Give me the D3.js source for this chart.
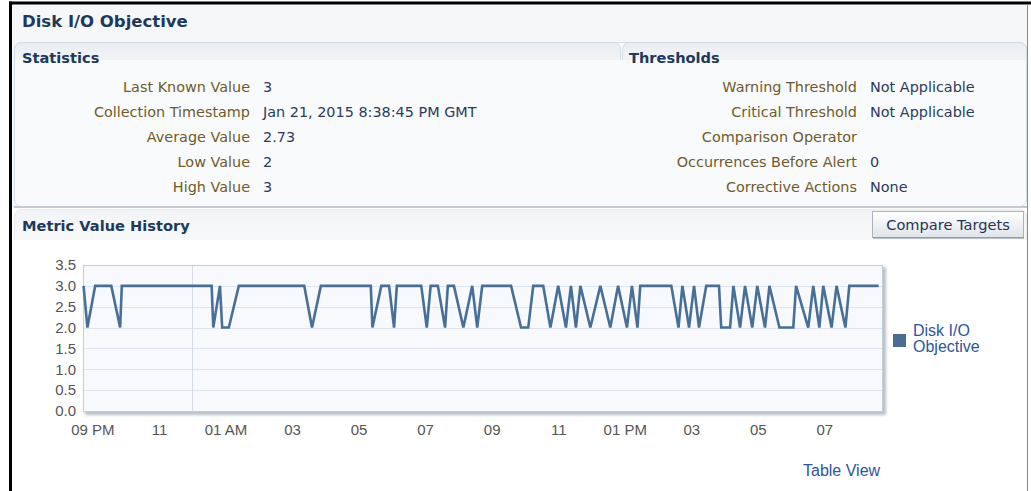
<!DOCTYPE html>
<html>
<head>
<meta charset="utf-8">
<script src="https://cdn.jsdelivr.net/npm/d3@7"></script>
<style>
  body { margin: 0; background: #fff; }
  svg { display: block; }
</style>
</head>
<body>
<script>
const W = 1031, H = 491;

// statistics panel
const statLabels = ["Last Known Value", "Collection Timestamp", "Average Value", "Low Value", "High Value"];
const statValues = ["3", "Jan 21, 2015 8:38:45 PM GMT", "2.73", "2", "3"];
const thresholdLabels = ["Warning Threshold", "Critical Threshold", "Comparison Operator", "Occurrences Before Alert", "Corrective Actions"];
const thresholdValues = ["Not Applicable", "Not Applicable", "", "0", "None"];

// metric history
const sampleTimes = [
  "2015-01-20 20:44", "2015-01-20 20:51", "2015-01-20 21:05", "2015-01-20 21:34", "2015-01-20 21:50",
  "2015-01-20 21:53", "2015-01-21 00:35", "2015-01-21 00:38", "2015-01-21 00:50", "2015-01-21 00:54",
  "2015-01-21 01:06", "2015-01-21 01:24", "2015-01-21 03:22", "2015-01-21 03:36", "2015-01-21 03:52",
  "2015-01-21 05:22", "2015-01-21 05:25", "2015-01-21 05:41", "2015-01-21 05:55", "2015-01-21 06:04",
  "2015-01-21 06:09", "2015-01-21 06:53", "2015-01-21 07:03", "2015-01-21 07:10", "2015-01-21 07:23",
  "2015-01-21 07:36", "2015-01-21 07:41", "2015-01-21 07:52", "2015-01-21 08:09", "2015-01-21 08:25",
  "2015-01-21 08:34", "2015-01-21 08:43", "2015-01-21 09:35", "2015-01-21 09:53", "2015-01-21 10:06",
  "2015-01-21 10:15", "2015-01-21 10:33", "2015-01-21 10:46", "2015-01-21 11:00", "2015-01-21 11:14",
  "2015-01-21 11:23", "2015-01-21 11:32", "2015-01-21 11:40", "2015-01-21 11:58", "2015-01-21 12:16",
  "2015-01-21 12:34", "2015-01-21 12:48", "2015-01-21 13:04", "2015-01-21 13:13", "2015-01-21 13:23",
  "2015-01-21 13:28", "2015-01-21 14:24", "2015-01-21 14:37", "2015-01-21 14:44", "2015-01-21 14:56",
  "2015-01-21 15:05", "2015-01-21 15:14", "2015-01-21 15:27", "2015-01-21 15:50", "2015-01-21 15:54",
  "2015-01-21 16:10", "2015-01-21 16:16", "2015-01-21 16:28", "2015-01-21 16:37", "2015-01-21 16:50",
  "2015-01-21 16:59", "2015-01-21 17:13", "2015-01-21 17:21", "2015-01-21 17:39", "2015-01-21 18:04",
  "2015-01-21 18:09", "2015-01-21 18:31", "2015-01-21 18:40", "2015-01-21 18:51", "2015-01-21 18:58",
  "2015-01-21 19:13", "2015-01-21 19:22", "2015-01-21 19:38", "2015-01-21 19:45", "2015-01-21 20:38"
];
const sampleValues = [
  3, 2, 3, 3, 2,
  3, 3, 2, 3, 2,
  2, 3, 3, 2, 3,
  3, 2, 3, 3, 2,
  3, 3, 2, 3, 3,
  2, 3, 3, 2, 3,
  2, 3, 3, 2, 2,
  3, 3, 2, 3, 2,
  3, 2, 3, 2, 3,
  2, 3, 2, 3, 2,
  3, 3, 2, 3, 2,
  3, 2, 3, 3, 2,
  2, 3, 2, 3, 2,
  3, 2, 3, 2, 2,
  3, 2, 3, 2, 3,
  2, 3, 2, 3, 3
];
const seriesName = ["Disk I/O", "Objective"];
const yTicks = [0, 0.5, 1, 1.5, 2, 2.5, 3, 3.5];
const timeWindow = ["2015-01-20 20:43", "2015-01-21 20:44"];

const parseTime = d3.timeParse("%Y-%m-%d %H:%M");
const data = sampleTimes.map((t, i) => ({ t: parseTime(t), v: sampleValues[i] }));

const svg = d3.select("body").append("svg")
  .attr("width", W)
  .attr("height", H)
  .style("font-family", "'DejaVu Sans', Tahoma, sans-serif");

const defs = svg.append("defs");
const tabGrad = defs.append("linearGradient").attr("id", "tabGrad").attr("x1", 0).attr("y1", 0).attr("x2", 0).attr("y2", 1);
tabGrad.append("stop").attr("offset", "0%").attr("stop-color", "#e9edf1");
tabGrad.append("stop").attr("offset", "100%").attr("stop-color", "#f8f9fb");
const btnGrad = defs.append("linearGradient").attr("id", "btnGrad").attr("x1", 0).attr("y1", 0).attr("x2", 0).attr("y2", 1);
btnGrad.append("stop").attr("offset", "0%").attr("stop-color", "#ffffff");
btnGrad.append("stop").attr("offset", "100%").attr("stop-color", "#dfe4ea");
const blur = defs.append("filter").attr("id", "shadow").attr("x", "-5%").attr("y", "-5%").attr("width", "110%").attr("height", "115%");
blur.append("feGaussianBlur").attr("stdDeviation", 1.5);

// page frame
svg.append("rect").attr("x", 12).attr("y", 5).attr("width", 1015).attr("height", 240).attr("fill", "#f6f7f9");
svg.append("rect").attr("x", 9).attr("y", 1.5).attr("width", 1022).attr("height", 3).attr("fill", "#000");
svg.append("rect").attr("x", 9).attr("y", 1.5).attr("width", 3).attr("height", H).attr("fill", "#000");

svg.append("text")
  .attr("x", 22).attr("y", 27)
  .attr("fill", "#1d3a5c")
  .style("font-weight", "bold").style("font-size", "16.5px")
  .text("Disk I/O Objective");

// statistics / thresholds panel
svg.append("rect").attr("x", 14.5).attr("y", 42.5).attr("width", 1012).attr("height", 164)
  .attr("rx", 7).attr("fill", "#f9fafb").attr("stroke", "#d6dce3");
svg.append("rect").attr("x", 14.5).attr("y", 42.5).attr("width", 606).attr("height", 30)
  .attr("rx", 7).attr("fill", "url(#tabGrad)").attr("stroke", "#d6dce3");
svg.append("rect").attr("x", 622.5).attr("y", 42.5).attr("width", 404).attr("height", 30)
  .attr("rx", 7).attr("fill", "url(#tabGrad)").attr("stroke", "#d6dce3");
svg.append("rect").attr("x", 15).attr("y", 60).attr("width", 1011).attr("height", 20).attr("fill", "#f9fafb");
svg.append("line").attr("x1", 14).attr("x2", 1027).attr("y1", 207).attr("y2", 207).attr("stroke", "#c4cad2").attr("stroke-width", 2);

svg.append("text").attr("x", 22).attr("y", 63).attr("fill", "#1d3a5c")
  .style("font-weight", "bold").style("font-size", "14.6px").text("Statistics");
svg.append("text").attr("x", 629).attr("y", 63).attr("fill", "#1d3a5c")
  .style("font-weight", "bold").style("font-size", "14.6px").text("Thresholds");

function drawRows(labels, values, xLabel, xValue)
{
  const g = svg.append("g").style("font-size", "14.4px");
  g.selectAll("text.lbl").data(labels).join("text")
    .attr("class", "lbl")
    .attr("x", xLabel).attr("y", (d, i) => 92 + i * 25)
    .attr("text-anchor", "end").attr("fill", "#6f5a2c")
    .text(d => d);
  g.selectAll("text.val").data(values).join("text")
    .attr("class", "val")
    .attr("x", xValue).attr("y", (d, i) => 92 + i * 25)
    .attr("fill", "#2a3a60")
    .text(d => d);
}
drawRows(statLabels, statValues, 250, 263);
drawRows(thresholdLabels, thresholdValues, 857, 870);

// metric value history section
svg.append("rect").attr("x", 12).attr("y", 208).attr("width", 1015).attr("height", H).attr("fill", "#fff");
svg.append("rect").attr("x", 14.5).attr("y", 209.5).attr("width", 1012).attr("height", 40)
  .attr("rx", 7).attr("fill", "url(#tabGrad)").attr("stroke", "#d6dce3").attr("opacity", 0.6);
svg.append("rect").attr("x", 12).attr("y", 240).attr("width", 1015).attr("height", H).attr("fill", "#fff");
svg.append("line").attr("x1", 1027.5).attr("x2", 1027.5).attr("y1", 4).attr("y2", H).attr("stroke", "#8a8a8a");
svg.append("text").attr("x", 22).attr("y", 231).attr("fill", "#1d3a5c")
  .style("font-weight", "bold").style("font-size", "14.6px").text("Metric Value History");

const btn = svg.append("g");
btn.append("rect").attr("x", 872.5).attr("y", 211.5).attr("width", 151).attr("height", 26)
  .attr("fill", "url(#btnGrad)").attr("stroke", "#a9b2bd");
btn.append("line").attr("x1", 873).attr("x2", 1024).attr("y1", 238).attr("y2", 238).attr("stroke", "#7d8794");
btn.append("text").attr("x", 948).attr("y", 230).attr("text-anchor", "middle")
  .attr("fill", "#1f3454").style("font-size", "14.6px").text("Compare Targets");

// chart
const plot = { left: 83, right: 882, top: 265, bottom: 411 };
const x = d3.scaleTime().domain(timeWindow.map(parseTime)).range([plot.left, plot.right]);
const y = d3.scaleLinear().domain([0, 3.5]).range([plot.bottom, plot.top]);

const chart = svg.append("g").style("font-family", "'Liberation Sans', Arial, sans-serif");

chart.append("rect")
  .attr("x", plot.left + 2).attr("y", plot.top + 2)
  .attr("width", plot.right - plot.left + 2).attr("height", plot.bottom - plot.top + 2)
  .attr("fill", "#b9bfc7").attr("filter", "url(#shadow)");
chart.append("rect")
  .attr("x", plot.left).attr("y", plot.top)
  .attr("width", plot.right - plot.left).attr("height", plot.bottom - plot.top)
  .attr("fill", "#f8f9fc");

chart.append("g").selectAll("line").data(yTicks.slice(1, -1)).join("line")
  .attr("x1", plot.left).attr("x2", plot.right)
  .attr("y1", d => Math.round(y(d)) + 0.5).attr("y2", d => Math.round(y(d)) + 0.5)
  .attr("stroke", "#dde4ee");

const dayLines = d3.timeDay.range(x.domain()[0], x.domain()[1]);
chart.append("g").selectAll("line").data(dayLines).join("line")
  .attr("x1", d => Math.round(x(d)) + 0.5).attr("x2", d => Math.round(x(d)) + 0.5)
  .attr("y1", plot.top).attr("y2", plot.bottom)
  .attr("stroke", "#d5dce6");

chart.append("rect")
  .attr("x", plot.left + 0.5).attr("y", plot.top + 0.5)
  .attr("width", plot.right - plot.left).attr("height", plot.bottom - plot.top)
  .attr("fill", "none").attr("stroke", "#c3cedb");

const line = d3.line().x(d => x(d.t)).y(d => y(d.v));
chart.append("path")
  .datum(data)
  .attr("d", line)
  .attr("fill", "none")
  .attr("stroke", "#476f97")
  .attr("stroke-width", 2.6)
  .attr("stroke-linejoin", "miter");

const yAxis = chart.append("g")
  .attr("transform", `translate(${plot.left - 6},0)`)
  .call(d3.axisLeft(y).tickValues(yTicks).tickFormat(d3.format(".1f")).tickSize(0).tickPadding(1));
yAxis.select(".domain").remove();
yAxis.selectAll("text").attr("fill", "#555").style("font-size", "15px").style("font-family", "'Liberation Sans', Arial, sans-serif");

// labels every two hours on the odd hours
const xTicks = d3.timeHour.range(x.domain()[0], x.domain()[1])
  .filter(d => d.getHours() % 2 === 1);
const hourFmt = d3.timeFormat("%I"), ampm = d3.timeFormat("%p");
const xLabel = (d, i) => {
  if (i === 0 || ampm(d) !== ampm(xTicks[i - 1])) return hourFmt(d) + " " + ampm(d);
  return hourFmt(d);
};
const xAxis = chart.append("g")
  .attr("transform", `translate(0,${plot.bottom})`)
  .call(d3.axisBottom(x).tickValues(xTicks).tickFormat(xLabel).tickSize(0).tickPadding(13));
xAxis.select(".domain").remove();
xAxis.selectAll("text").attr("fill", "#555").style("font-size", "15px").style("font-family", "'Liberation Sans', Arial, sans-serif");

// legend
const legend = chart.append("g").attr("transform", "translate(893,334)");
legend.append("rect").attr("width", 13).attr("height", 13).attr("fill", "#4a6d93");
legend.selectAll("text").data(seriesName).join("text")
  .attr("x", 20).attr("y", (d, i) => 2 + i * 16)
  .attr("fill", "#2b55a0").style("font-size", "16px")
  .text(d => d);

chart.append("text").attr("x", 803).attr("y", 476)
  .attr("fill", "#2b55a0").style("font-size", "16px").text("Table View");
</script>
</body>
</html>
